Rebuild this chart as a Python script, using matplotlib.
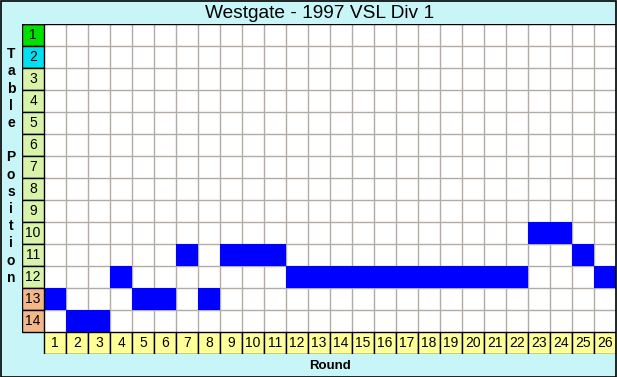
import matplotlib
matplotlib.use("Agg")
from matplotlib import pyplot as plt
from matplotlib.patches import Rectangle
import numpy as np

title = "Westgate - 1997 VSL Div 1"
rounds = list(range(1, 27))
positions = [13, 14, 14, 12, 13, 13, 11, 13, 11, 11, 11, 12, 12,
             12, 12, 12, 12, 12, 12, 12, 12, 12, 10, 10, 11, 12]
table_rows = list(range(1, 15))
row_colours = ["#00e000", "#00e0f0"] + ["#d8f4a8"] * 10 + ["#f4b888"] * 2

W, H = 617, 377
fig = plt.figure(figsize=(W / 100, H / 100), dpi=100)
fig.patch.set_facecolor("#c8f6f8")

# axes spans label column + grid + round label row
ax = fig.add_axes([22 / W, (H - 354) / H, (616 - 22) / W, (354 - 24) / H])
ax.set_xlim(-0.5, 26.5)
ax.set_ylim(15.5, 0.5)
ax.axis("off")

# white grid area
ax.add_patch(Rectangle((0.5, 0.5), 26, 14, facecolor="white", edgecolor="none", zorder=0))

# blue position cells
ax.bar(rounds, 1, bottom=np.array(positions) - 0.5, width=1, color="#0000ff",
       linewidth=0, zorder=2)

# grid lines
for x in np.arange(1.5, 26.5):
    ax.plot([x, x], [0.5, 14.5], color="#b4aca4", lw=1, zorder=1)
for y in np.arange(1.5, 14.5):
    ax.plot([0.5, 26.5], [y, y], color="#b4aca4", lw=1, zorder=1)

# row labels
for r, c in zip(table_rows, row_colours):
    ax.add_patch(Rectangle((-0.5, r - 0.5), 1, 1, facecolor=c, edgecolor="black",
                           lw=1, zorder=3))
    ax.text(0, r, str(r), ha="center", va="center", fontsize=10,
            family="Liberation Sans", zorder=4)

# round labels
for rd in rounds:
    ax.add_patch(Rectangle((rd - 0.5, 14.5), 1, 1, facecolor="#ffff98", edgecolor="black",
                           lw=1, zorder=3))
    ax.text(rd, 15, str(rd), ha="center", va="center", fontsize=10,
            family="Liberation Sans", zorder=4)

# top line of grid
ax.plot([-0.5, 26.5], [0.5, 0.5], color="black", lw=1, zorder=5)

fig.text(320 / W, 1 - 13 / H, title, ha="center", va="center", fontsize=13.8,
         family="Liberation Sans")
fig.text(330 / W, 1 - 366 / H, "Round", ha="center", va="center", fontsize=9.5,
         weight="bold", family="Liberation Sans")
fig.text(11 / W, 1 - 166 / H, "\n".join("Table Position").replace(" ", ""),
         ha="center", va="center", fontsize=10, weight="bold",
         family="Liberation Sans", linespacing=1.29)

# outer border
fig.add_artist(Rectangle((0.5 / W, 0.5 / H), (W - 1.5) / W, (H - 1.5) / H,
                         transform=fig.transFigure, fill=False, edgecolor="black", lw=1.2))

fig.savefig("out.png", dpi=100, facecolor=fig.get_facecolor())
